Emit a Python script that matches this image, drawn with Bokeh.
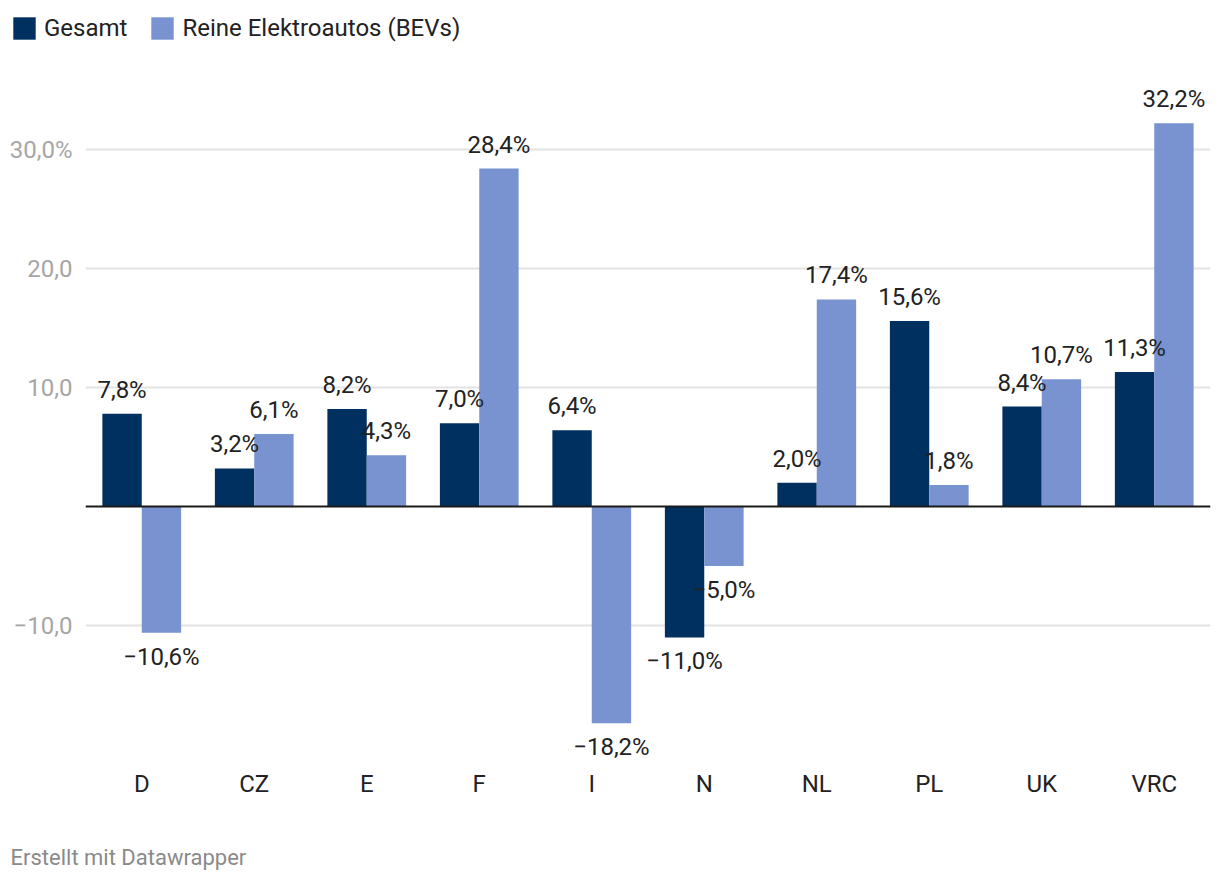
from bokeh.plotting import figure
from bokeh.layouts import column
from bokeh.models import (ColumnDataSource, Range1d, FactorRange, FixedTicker, Span, Legend,
                          LegendItem, Label)
from bokeh.transform import dodge
from bokeh.embed import file_html
from bokeh.resources import INLINE

categories = ["D", "CZ", "E", "F", "I", "N", "NL", "PL", "UK", "VRC"]
gesamt = [7.8, 3.2, 8.2, 7.0, 6.4, -11.0, 2.0, 15.6, 8.4, 11.3]
bev = [-10.6, 6.1, 4.3, 28.4, -18.2, -5.0, 17.4, 1.8, 10.7, 32.2]
series_names = ["Gesamt", "Reine Elektroautos (BEVs)"]
y_ticks = [-10, 10, 20, 30]
y_tick_labels = ["\u221210,0", "10,0", "20,0", "30,0%"]

DARK = "#00305f"
LIGHT = "#7893cf"
FONT = "Roboto"


def fmt(v):
    s = f"{abs(v):.1f}".replace(".", ",") + "%"
    return ("\u2212" + s) if v < 0 else s


def offs(vals):
    return [-24 if v >= 0 else 24 for v in vals]


def no_align(fig):
    try:
        fig.frame_align = False
    except Exception:
        pass


def strip(h):
    f = figure(width=1220, height=h, output_backend="svg", toolbar_location=None,
               x_range=Range1d(0, 1), y_range=Range1d(0, 1),
               x_axis_type=None, y_axis_type=None,
               min_border_left=0, min_border_right=0, min_border_top=0, min_border_bottom=0)
    f.outline_line_color = None
    f.xgrid.grid_line_color = None
    f.ygrid.grid_line_color = None
    no_align(f)
    return f


src = ColumnDataSource(dict(
    cat=categories,
    g=gesamt,
    b=bev,
    gl=[fmt(v) for v in gesamt],
    bl=[fmt(v) for v in bev],
    go=offs(gesamt),
    bo=offs(bev),
))

# ---------------- legend strip ----------------
lg = strip(60)
hidden = ColumnDataSource(dict(x=[-5], top=[-5]))
lr1 = lg.vbar(x="x", top="top", width=0.1, source=hidden, fill_color=DARK, line_color=None)
lr2 = lg.vbar(x="x", top="top", width=0.1, source=hidden, fill_color=LIGHT, line_color=None)
legend = Legend(items=[LegendItem(label=series_names[0], renderers=[lr1]),
                       LegendItem(label=series_names[1], renderers=[lr2])],
                orientation="horizontal", location=(10, 18),
                glyph_width=28, glyph_height=28, label_standoff=6, spacing=21,
                padding=0, margin=0, border_line_color=None,
                background_fill_alpha=0,
                label_text_font=FONT, label_text_font_size="24px",
                label_text_color="#222222", label_height=28)
lg.add_layout(legend, "center")

# ---------------- main chart ----------------
p = figure(width=1220, height=745, output_backend="svg", toolbar_location=None,
           x_range=FactorRange(*categories, range_padding=0),
           y_range=Range1d(-21.34, 37.48),
           min_border_left=85, min_border_right=10, min_border_top=0,
           min_border_bottom=45)
no_align(p)
p.outline_line_color = None
p.background_fill_color = "white"
p.border_fill_color = "white"

p.vbar(x=dodge("cat", -0.175, range=p.x_range), top="g", bottom=0, width=0.35,
       source=src, fill_color=DARK, line_color=None)
p.vbar(x=dodge("cat", 0.175, range=p.x_range), top="b", bottom=0, width=0.35,
       source=src, fill_color=LIGHT, line_color=None)

p.add_layout(Span(location=0, dimension="width", line_color="#1a1a1a", line_width=2))

for col, lab, off, d in (("g", "gl", "go", -0.175), ("b", "bl", "bo", 0.175)):
    p.text(x=dodge("cat", d, range=p.x_range), y=col, text=lab, y_offset=off, source=src,
           text_align="center", text_baseline="middle", text_font_size="24px",
           text_font={"value": FONT}, text_color="#222222")

p.xaxis.axis_line_color = None
p.xaxis.major_tick_line_color = None
p.xaxis.minor_tick_line_color = None
p.xaxis.major_tick_out = 0
p.xaxis.minor_tick_out = 0
p.xaxis.major_label_text_font = FONT
p.xaxis.major_label_text_font_size = "24px"
p.xaxis.major_label_text_color = "#222222"
p.xaxis.major_label_standoff = 9
p.xgrid.grid_line_color = None

p.yaxis.ticker = FixedTicker(ticks=y_ticks)
p.yaxis.major_label_overrides = {t: l for t, l in zip(y_ticks, y_tick_labels)}
p.yaxis.axis_line_color = None
p.yaxis.major_tick_line_color = None
p.yaxis.minor_tick_line_color = None
p.yaxis.major_tick_out = 0
p.yaxis.minor_tick_out = 0
p.yaxis.major_label_text_font = FONT
p.yaxis.major_label_text_font_size = "24px"
p.yaxis.major_label_text_color = "#a6a6a6"
p.yaxis.major_label_standoff = 13
p.ygrid.ticker = FixedTicker(ticks=y_ticks)
p.ygrid.grid_line_color = "#e3e3e3"
p.ygrid.grid_line_width = 2

# ---------------- footer strip ----------------
ft = strip(77)
ft.add_layout(Label(x=10, y=25, x_units="screen", y_units="screen",
                    text="Erstellt mit Datawrapper", text_font=FONT, text_font_size="22px",
                    text_color="#8a8a8a", text_baseline="middle"))

layout = column(lg, p, ft, spacing=0)
open("out.html", "w").write(file_html(layout, INLINE))
